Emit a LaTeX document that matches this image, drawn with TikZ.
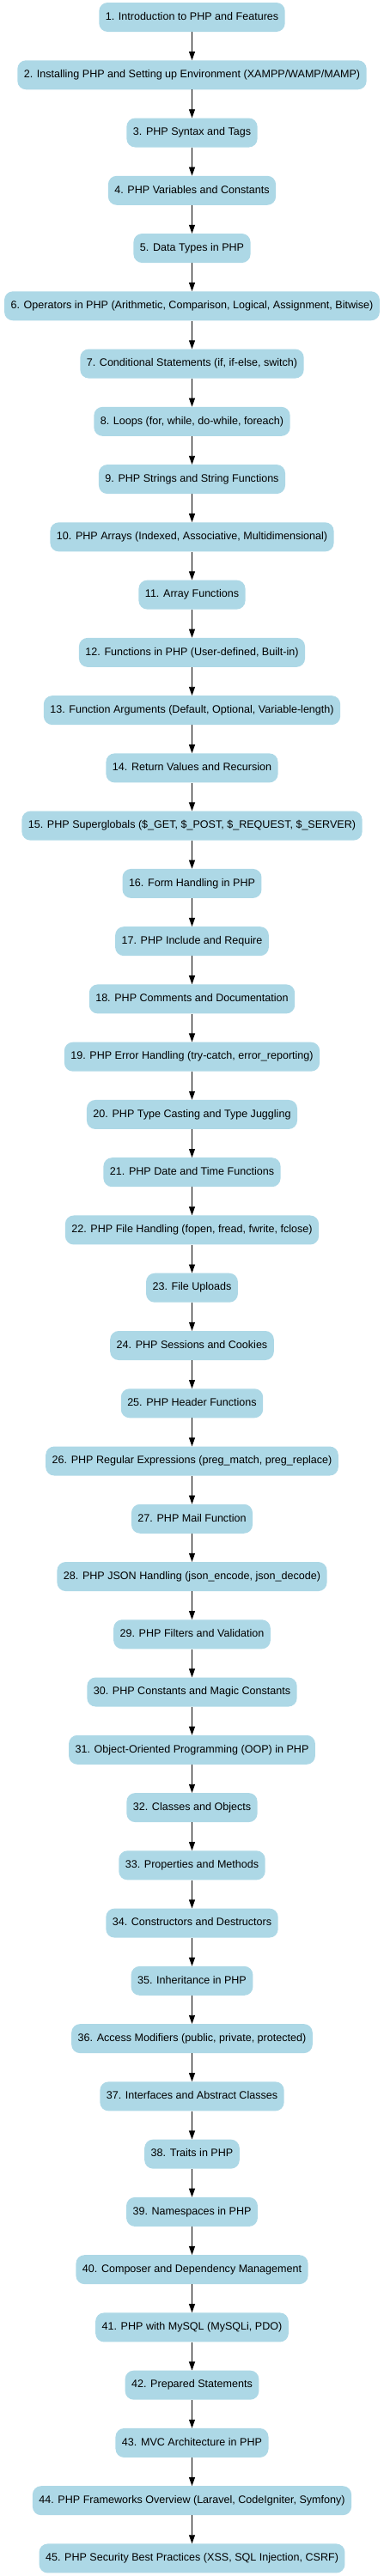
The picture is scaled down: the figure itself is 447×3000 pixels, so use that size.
\documentclass[tikz,border=0pt]{standalone}
\usepackage{fontspec}
\setmainfont{Liberation Sans}
\usetikzlibrary{arrows.meta}
\definecolor{nodefill}{HTML}{ADD8E6}
\begin{document}
\begin{tikzpicture}[x=1bp,y=-1bp,
  topic/.style={draw=none,fill=nodefill,rounded corners=10bp,minimum height=34bp,inner xsep=7.5bp,inner ysep=0pt,font=\fontsize{12.6}{15}\selectfont,text height=9.2bp,text depth=2.7bp},
  flow/.style={draw=black,line width=0.8bp,-{Triangle[length=10bp,width=7bp]}}]
\useasboundingbox (0,0) rectangle (447,3000);
\foreach \t [count=\i] in {
{1. Introduction to PHP and Features},
{2. Installing PHP and Setting up Environment (XAMPP/WAMP/MAMP)},
{3. PHP Syntax and Tags},
{4. PHP Variables and Constants},
{5. Data Types in PHP},
{6. Operators in PHP (Arithmetic, Comparison, Logical, Assignment, Bitwise)},
{7. Conditional Statements (if, if-else, switch)},
{8. Loops (for, while, do-while, foreach)},
{9. PHP Strings and String Functions},
{10. PHP Arrays (Indexed, Associative, Multidimensional)},
{11. Array Functions},
{12. Functions in PHP (User-defined, Built-in)},
{13. Function Arguments (Default, Optional, Variable-length)},
{14. Return Values and Recursion},
{15. PHP Superglobals (\$\_GET, \$\_POST, \$\_REQUEST, \$\_SERVER)},
{16. Form Handling in PHP},
{17. PHP Include and Require},
{18. PHP Comments and Documentation},
{19. PHP Error Handling (try-catch, error\_reporting)},
{20. PHP Type Casting and Type Juggling},
{21. PHP Date and Time Functions},
{22. PHP File Handling (fopen, fread, fwrite, fclose)},
{23. File Uploads},
{24. PHP Sessions and Cookies},
{25. PHP Header Functions},
{26. PHP Regular Expressions (preg\_match, preg\_replace)},
{27. PHP Mail Function},
{28. PHP JSON Handling (json\_encode, json\_decode)},
{29. PHP Filters and Validation},
{30. PHP Constants and Magic Constants},
{31. Object-Oriented Programming (OOP) in PHP},
{32. Classes and Objects},
{33. Properties and Methods},
{34. Constructors and Destructors},
{35. Inheritance in PHP},
{36. Access Modifiers (public, private, protected)},
{37. Interfaces and Abstract Classes},
{38. Traits in PHP},
{39. Namespaces in PHP},
{40. Composer and Dependency Management},
{41. PHP with MySQL (MySQLi, PDO)},
{42. Prepared Statements},
{43. MVC Architecture in PHP},
{44. PHP Frameworks Overview (Laravel, CodeIgniter, Symfony)},
{45. PHP Security Best Practices (XSS, SQL Injection, CSRF)}}
{
  \node[topic] (n\i) at (223.5,{20+(\i-1)*67.26}) {\t};
}
\foreach \i [evaluate=\i as \j using int(\i+1)] in {1,...,44}
{
  \draw[flow] (n\i.south) -- (n\j.north);
}
\end{tikzpicture}
\end{document}
